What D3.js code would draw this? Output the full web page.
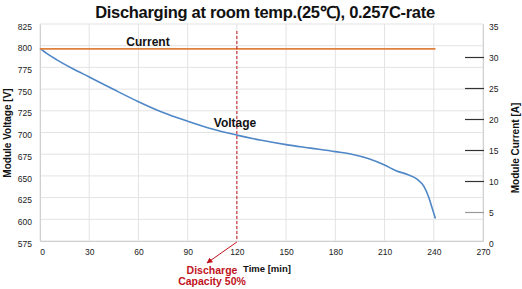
<!DOCTYPE html>
<html>
<head>
<meta charset="utf-8">
<script src="https://cdn.jsdelivr.net/npm/d3@7"></script>
<style>
  body { margin: 0; background: #fff; }
  svg { display: block; font-family: Arial, 'Liberation Sans', sans-serif; }
</style>
</head>
<body>
<div id="chart"></div>
<script>
/* Discharge curve: module voltage / current vs time */

const timeMin = [0, 5, 10, 20, 30, 45, 60, 75, 90, 105, 120, 135, 150, 165, 180, 190, 200, 210, 217, 224, 230, 234, 237, 239, 241];
const voltage = [797, 790, 784, 773.5, 764, 749.5, 735.5, 723, 713, 704, 697, 691, 686, 682, 678, 675, 670, 662.5, 656, 651.5, 646, 638, 625, 613, 601];
const currentTime = [0, 60, 120, 180, 241];
const current = [31, 31, 31, 31, 31];

const xTicks = [0, 30, 60, 90, 120, 150, 180, 210, 240, 270];
const vTicks = [575, 600, 625, 650, 675, 700, 725, 750, 775, 800, 825];
const aTicks = [0, 5, 10, 15, 20, 25, 30, 35];
const markerTime = 120;

const W = 522, H = 289;
const m = { top: 24, right: 39, bottom: 48, left: 40 };

const svg = d3.select('#chart').append('svg')
  .attr('width', W).attr('height', H);

const x = d3.scaleLinear().domain([0, 270]).range([m.left, W - m.right]);
const yV = d3.scaleLinear().domain([575, 825]).range([H - m.bottom, m.top]);
const yA = d3.scaleLinear().domain([0, 35]).range([H - m.bottom, m.top]);

// ─── Grid ───
svg.append('g')
  .selectAll('line.h')
  .data(vTicks)
  .join('line')
  .attr('x1', x(0)).attr('x2', x(270))
  .attr('y1', d => yV(d)).attr('y2', d => yV(d))
  .attr('stroke', '#e3e3e3').attr('stroke-width', 1);

svg.append('g')
  .selectAll('line.v')
  .data(xTicks)
  .join('line')
  .attr('x1', d => x(d)).attr('x2', d => x(d))
  .attr('y1', yV(825)).attr('y2', yV(575))
  .attr('stroke', '#e3e3e3').attr('stroke-width', 1);

// ─── Axes ───
const tickFont = g => g.selectAll('text')
  .attr('font-size', '8.5px')
  .attr('fill', '#222')
  .attr('font-family', "Arial, 'Liberation Sans', sans-serif");

const xAxis = svg.append('g')
  .attr('transform', `translate(0,${yV(575)})`)
  .call(d3.axisBottom(x).tickValues(xTicks).tickSize(0).tickPadding(8))
  .call(tickFont);
xAxis.select('.domain').attr('stroke', '#d0d0d0');
xAxis.select('.tick text').attr('dx', 2);

const yAxisL = svg.append('g')
  .attr('transform', `translate(${m.left},0)`)
  .call(d3.axisLeft(yV).tickValues(vTicks).tickSize(0).tickPadding(8))
  .call(tickFont);
yAxisL.select('.domain').attr('stroke', '#d0d0d0');
yAxisL.selectAll('.tick text').attr('dy', '0.6em');

const yAxisR = svg.append('g')
  .attr('transform', `translate(${W - m.right},0)`)
  .call(d3.axisRight(yA).tickValues(aTicks).tickSize(0).tickPadding(6))
  .call(tickFont);
yAxisR.select('.domain').attr('stroke', '#d0d0d0');
yAxisR.selectAll('.tick text').attr('dy', '0.6em');
yAxisR.selectAll('.tick')
  .filter(d => d > 0 && d < 35)
  .append('line')
  .attr('x1', -18).attr('x2', 1)
  .attr('y1', 2).attr('y2', 2)
  .attr('stroke', d => d === 5 ? '#999' : '#333')
  .attr('stroke-width', 1.2);

// ─── Series ───
const vLine = d3.line()
  .x((d, i) => x(timeMin[i]))
  .y(d => yV(d))
  .curve(d3.curveMonotoneX);

svg.append('path')
  .attr('d', vLine(voltage))
  .attr('fill', 'none')
  .attr('stroke', '#4f87c7')
  .attr('stroke-width', 1.6);

const aLine = d3.line()
  .x((d, i) => x(currentTime[i]))
  .y(d => yA(d));

svg.append('path')
  .attr('d', aLine(current))
  .attr('fill', 'none')
  .attr('stroke', '#e0803e')
  .attr('stroke-width', 1.8);

// ─── 50% marker ───
const red = '#c0141c';
svg.append('line')
  .attr('x1', x(markerTime)).attr('x2', x(markerTime))
  .attr('y1', 31).attr('y2', yV(575))
  .attr('stroke', red).attr('stroke-width', 1)
  .attr('stroke-dasharray', '3,2');

svg.append('defs').append('marker')
  .attr('id', 'arrow')
  .attr('viewBox', '0 0 10 10')
  .attr('refX', 9).attr('refY', 5)
  .attr('markerWidth', 6).attr('markerHeight', 6)
  .attr('orient', 'auto')
  .append('path')
  .attr('d', 'M0,0 L10,5 L0,10 z')
  .attr('fill', red);

svg.append('line')
  .attr('x1', x(markerTime)).attr('y1', yV(575) + 1)
  .attr('x2', 207).attr('y2', 263)
  .attr('stroke', red).attr('stroke-width', 1)
  .attr('marker-end', 'url(#arrow)');

const noteText = svg.append('text')
  .attr('text-anchor', 'middle')
  .attr('fill', red)
  .attr('font-size', '10.5px')
  .attr('font-weight', 'bold');
noteText.append('tspan').attr('x', 212).attr('y', 274).text('Discharge');
noteText.append('tspan').attr('x', 212).attr('y', 285).text('Capacity 50%');

// ─── Labels ───
svg.append('text')
  .attr('x', 265).attr('y', 18)
  .attr('text-anchor', 'middle')
  .attr('font-size', '16.5px')
  .attr('font-weight', 'bold')
  .attr('letter-spacing', '-0.3px')
  .attr('fill', '#111')
  .text('Discharging at room temp.(25℃), 0.257C-rate');

svg.append('text')
  .attr('x', 148).attr('y', 46)
  .attr('text-anchor', 'middle')
  .attr('font-size', '12px').attr('font-weight', 'bold').attr('fill', '#111')
  .text('Current');

svg.append('text')
  .attr('x', 235).attr('y', 127)
  .attr('text-anchor', 'middle')
  .attr('font-size', '12px').attr('font-weight', 'bold').attr('fill', '#111')
  .text('Voltage');

svg.append('text')
  .attr('x', 267).attr('y', 272)
  .attr('text-anchor', 'middle')
  .attr('font-size', '9.5px').attr('font-weight', 'bold').attr('fill', '#111')
  .text('Time [min]');

svg.append('text')
  .attr('transform', 'translate(11,133) rotate(-90)')
  .attr('text-anchor', 'middle')
  .attr('font-size', '10px').attr('font-weight', 'bold').attr('fill', '#111')
  .text('Module Voltage [V]');

svg.append('text')
  .attr('transform', 'translate(519,148) rotate(-90)')
  .attr('text-anchor', 'middle')
  .attr('font-size', '10px').attr('font-weight', 'bold').attr('fill', '#111')
  .text('Module Current [A]');
</script>
</body>
</html>
